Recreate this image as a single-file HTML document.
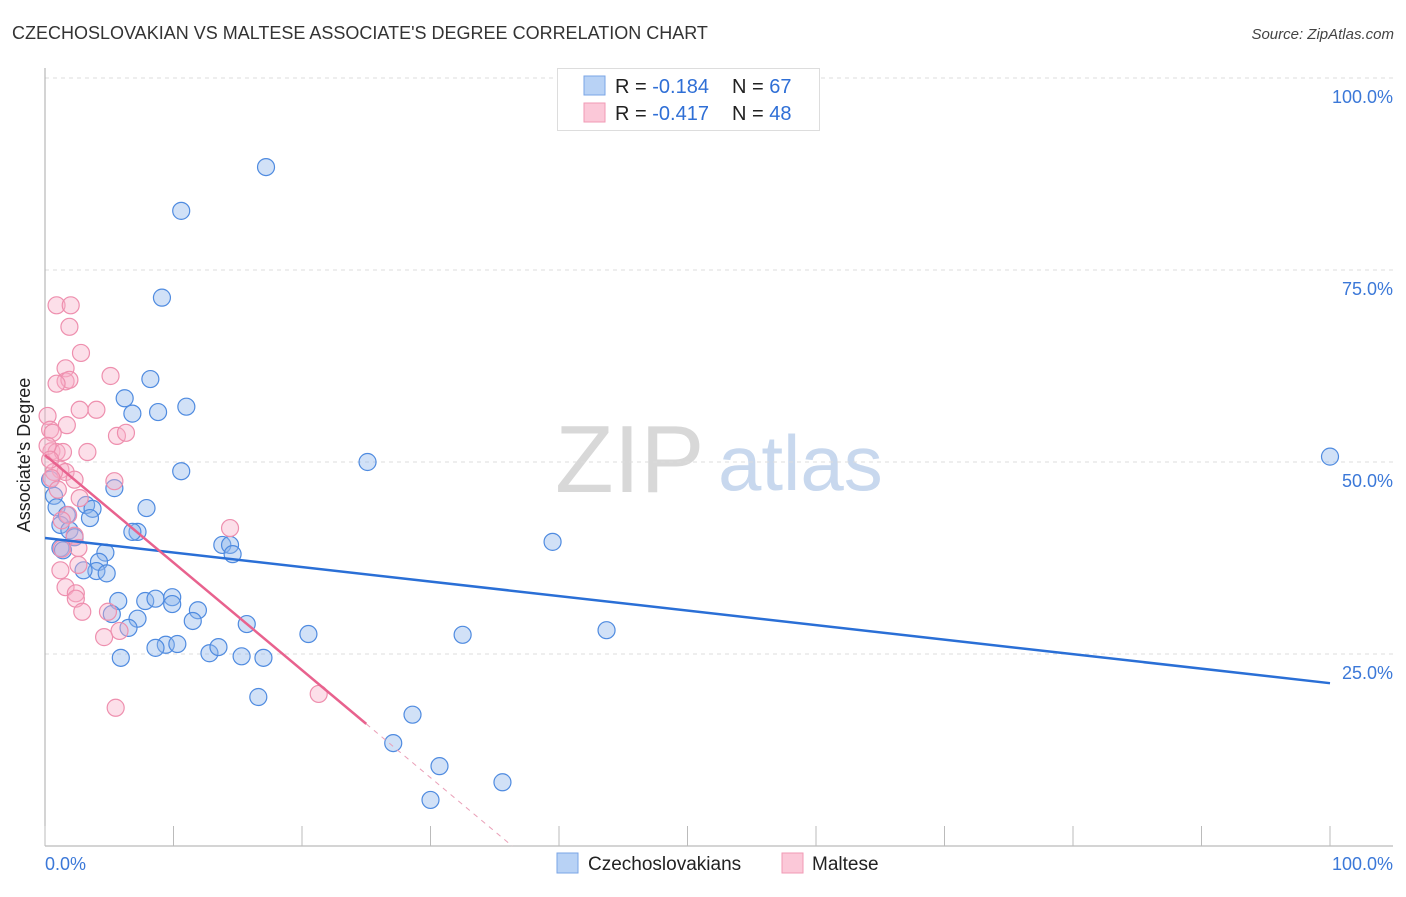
<!DOCTYPE html>
<html><head><meta charset="utf-8"><style>
body{margin:0;background:#fff;font-family:"Liberation Sans",sans-serif;}
svg text{font-family:"Liberation Sans",sans-serif;}
</style></head><body>
<svg id="chart" width="1406" height="892">
<text x="12" y="39" font-size="18" fill="#333">CZECHOSLOVAKIAN VS MALTESE ASSOCIATE'S DEGREE CORRELATION CHART</text>
<text x="1394" y="39" font-size="15" fill="#444" text-anchor="end" font-style="italic">Source: ZipAtlas.com</text>
<g>
<text x="555" y="492" font-size="96" fill="#d8d8d8" font-family="Liberation Serif,serif">ZIP</text>
<text x="718" y="490" font-size="78" fill="#c8d8ee">atlas</text>
</g>
<g id="grid"></g>
<text x="30" y="455" font-size="18" fill="#222" transform="rotate(-90 30 455)" text-anchor="middle">Associate's Degree</text>
<g id="marks"></g>
<g>
<rect x="557.5" y="68.5" width="262" height="62" fill="#fff" stroke="#ddd"/>
<rect x="584" y="76" width="21" height="19" fill="#b8d2f5" stroke="#7aa5e6"/>
<rect x="584" y="103" width="21" height="19" fill="#fbc8d8" stroke="#f09ab5"/>
<text x="615" y="93" font-size="20" fill="#222">R = <tspan fill="#2f6fd6">-0.184</tspan></text>
<text x="732" y="93" font-size="20" fill="#222">N = <tspan fill="#2f6fd6">67</tspan></text>
<text x="615" y="120" font-size="20" fill="#222">R = <tspan fill="#2f6fd6">-0.417</tspan></text>
<text x="732" y="120" font-size="20" fill="#222">N = <tspan fill="#2f6fd6">48</tspan></text>
</g>
<g>
<rect x="557" y="853" width="21" height="20" fill="#b8d2f5" stroke="#7aa5e6"/>
<text x="588" y="870" font-size="19" fill="#222">Czechoslovakians</text>
<rect x="782" y="853" width="21" height="20" fill="#fbc8d8" stroke="#f09ab5"/>
<text x="812" y="870" font-size="19" fill="#222">Maltese</text>
</g>
</svg>
<script>
const blueX=[17.2,10.6,9.1,8.2,6.2,8.8,11.0,6.8,10.6,25.1,5.4,7.9,0.7,0.9,3.2,3.7,3.5,1.7,1.2,1.9,2.3,4.7,4.2,4.0,4.8,3.0,7.2,6.8,13.8,14.4,14.6,39.5,5.7,7.8,8.6,9.9,9.9,11.9,11.5,7.2,5.2,6.5,15.7,20.5,32.5,43.7,9.4,10.3,8.6,12.8,13.5,15.3,17.0,5.9,16.6,28.6,27.1,30.7,30.0,35.6,100,0.4,1.2,1.4];
const blueY=[88.4,82.7,71.4,60.8,58.3,56.5,57.2,56.3,48.8,50.0,46.6,44.0,45.6,44.1,44.4,43.9,42.7,43.1,41.8,41.1,40.2,38.2,37.0,35.8,35.5,35.9,40.9,40.9,39.2,39.2,38.0,39.6,31.9,31.9,32.2,32.4,31.5,30.7,29.3,29.6,30.2,28.4,28.9,27.6,27.5,28.1,26.2,26.3,25.8,25.1,25.9,24.7,24.5,24.5,19.4,17.1,13.4,10.4,6.0,8.3,50.7,47.7,38.8,38.5];
const pinkX=[0.9,2.0,1.9,2.8,1.6,1.6,1.9,0.9,5.1,4.0,2.7,1.7,0.2,0.4,0.6,0.5,0.9,1.4,3.3,5.6,6.3,1.2,1.6,0.7,2.3,0.5,2.7,1.8,1.3,5.4,14.4,2.3,2.6,1.3,2.6,1.2,1.6,2.4,2.4,2.9,4.9,4.6,5.8,5.5,21.3,0.2,0.4,1.0];
const pinkY=[70.4,70.4,67.6,64.2,62.2,60.5,60.7,60.2,61.2,56.8,56.8,54.8,56.0,54.2,53.8,51.4,51.3,51.3,51.3,53.4,53.8,49.0,48.7,48.7,47.7,47.9,45.3,43.1,42.4,47.5,41.4,40.4,38.8,38.7,36.6,35.9,33.7,32.9,32.2,30.5,30.5,27.2,28.0,18.0,19.8,52.1,50.3,46.4];
const blueTrend=[40.1,21.2];
const pinkTrend=[50.9,-1.4];
const pinkSolidEnd=25;
const yTicks=[25,50,75,100];
const yTickLabels=["25.0%","50.0%","75.0%","100.0%"];
const xTicks=[0,10,20,30,40,50,60,70,80,90,100];
const NS="http://www.w3.org/2000/svg";
const sx=v=>45+v*12.85, sy=v=>846-v*7.68;
const grid=document.getElementById('grid'), marks=document.getElementById('marks'), svg=document.getElementById('chart');
function mk(t,a,p){const e=document.createElementNS(NS,t);for(const k in a)e.setAttribute(k,a[k]);(p||svg).appendChild(e);return e;}
yTicks.forEach((t,i)=>{
 const l=mk('line',{x1:45,x2:1393,y1:sy(t),y2:sy(t),stroke:'#ddd','stroke-dasharray':'4 4'},grid);
 
 
 const tx=mk('text',{x:1393,y:sy(t)+25,'font-size':18,fill:'#3b78d8','text-anchor':'end'});
 tx.textContent=yTickLabels[i];
 
 
});
const ax=mk('line',{x1:45,x2:45,y1:68,y2:846,stroke:'#aaa'},grid);


const bx=mk('line',{x1:45,x2:1393,y1:846,y2:846,stroke:'#aaa'},grid);


xTicks.forEach(t=>{
 const l=mk('line',{x1:sx(t),x2:sx(t),y1:826,y2:846,stroke:'#bbb'},grid);
 
 
});
[[0,'0.0%','start',45],[100,'100.0%','end',1393]].forEach(d=>{
 const t=mk('text',{x:d[3],y:870,'font-size':18,fill:'#3b78d8','text-anchor':d[2]});
 t.textContent=d[1];
 
 
});
blueX.forEach((x,i)=>{
 const c=mk('circle',{cx:sx(x),cy:sy(blueY[i]),r:8.5,fill:'rgba(140,180,235,0.4)',stroke:'#4f8be0','stroke-width':1.2},marks);
 
 
});
pinkX.forEach((x,i)=>{
 const c=mk('circle',{cx:sx(x),cy:sy(pinkY[i]),r:8.5,fill:'rgba(248,175,200,0.4)',stroke:'#ee8fae','stroke-width':1.2},marks);
 
 
});
const bt=mk('line',{x1:sx(0),y1:sy(blueTrend[0]),x2:sx(100),y2:sy(blueTrend[1]),stroke:'#2a6fd6','stroke-width':2.5},marks);


const pz=-pinkTrend[0]/pinkTrend[1];
const pt=mk('line',{x1:sx(0),y1:sy(pinkTrend[0]),x2:sx(pinkSolidEnd),y2:sy(pinkTrend[0]+pinkTrend[1]*pinkSolidEnd),stroke:'#e8628e','stroke-width':2.5},marks);


const pd=mk('line',{x1:sx(pinkSolidEnd),y1:sy(pinkTrend[0]+pinkTrend[1]*pinkSolidEnd),x2:sx(pz),y2:sy(0),stroke:'#eaa0b8','stroke-width':1,'stroke-dasharray':'5 5'},marks);


</script>
</body></html>
